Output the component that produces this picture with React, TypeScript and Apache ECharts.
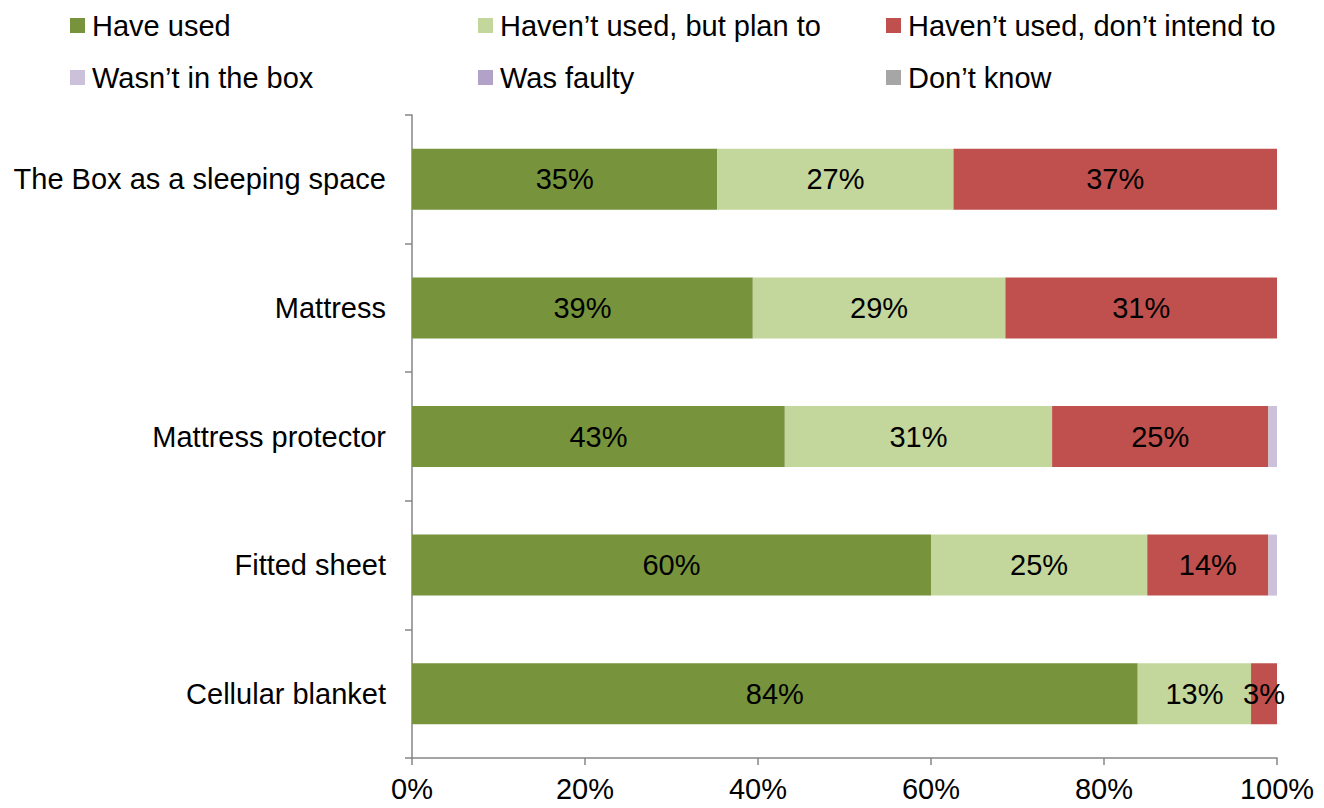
import React, { useEffect, useRef } from "react";
import * as echarts from "echarts";

const categories = [
  "The Box as a sleeping space",
  "Mattress",
  "Mattress protector",
  "Fitted sheet",
  "Cellular blanket",
];
const seriesNames = [
  "Have used",
  "Haven\u2019t used, but plan to",
  "Haven\u2019t used, don\u2019t intend to",
  "Wasn\u2019t in the box",
  "Was faulty",
  "Don\u2019t know",
];
const haveUsed = [35.3, 39.4, 43.1, 60.0, 83.9];
const planTo = [27.3, 29.2, 30.9, 25.0, 13.1];
const dontIntend = [37.4, 31.4, 25.0, 14.0, 3.0];
const notInBox = [0, 0, 1.0, 1.0, 0];
const faulty = [0, 0, 0, 0, 0];
const dontKnow = [0, 0, 0, 0, 0];
const colors = ["#77933C", "#C3D69B", "#C0504D", "#CCC1DA", "#B3A2C7", "#A6A6A6"];
const xTicks = [0, 20, 40, 60, 80, 100];

const FONT = "'Liberation Sans', Arial, sans-serif";
const FS = 29;

export default function App() {
  const ref = useRef<HTMLDivElement>(null);
  useEffect(() => {
    if (!ref.current) return;
    const chart = echarts.init(ref.current, undefined, { renderer: "svg" });
    const values = [haveUsed, planTo, dontIntend, notInBox, faulty, dontKnow];
    const legendPos = [
      { left: 70, top: 11 },
      { left: 478, top: 11 },
      { left: 886, top: 11 },
      { left: 70, top: 63 },
      { left: 478, top: 63 },
      { left: 886, top: 63 },
    ];
    chart.setOption({
      animation: false,
      color: colors,
      textStyle: { fontFamily: FONT },
      legend: seriesNames.map((n, i) => ({
        data: [n],
        left: legendPos[i].left,
        top: legendPos[i].top,
        itemWidth: 15,
        itemHeight: 15,
        icon: "rect",
        padding: 0,
        textStyle: { fontFamily: FONT, fontSize: FS, color: "#000", padding: [0, 0, 0, 2] },
        selectedMode: false,
      })),
      grid: { left: 412, right: 47, top: 115, bottom: 50, containLabel: false },
      xAxis: {
        type: "value",
        min: xTicks[0],
        max: xTicks[xTicks.length - 1],
        interval: 20,
        splitLine: { show: false },
        axisLine: { show: true, lineStyle: { color: "#868686", width: 1.5 } },
        axisTick: { show: true, length: 7, lineStyle: { color: "#868686", width: 1.5 } },
        axisLabel: {
          formatter: "{value}%",
          fontFamily: FONT,
          fontSize: FS,
          color: "#000",
          margin: 16,
        },
      },
      yAxis: {
        type: "category",
        data: categories,
        inverse: true,
        axisLine: { show: true, lineStyle: { color: "#868686", width: 1.5 } },
        axisTick: { show: true, length: 7, lineStyle: { color: "#868686", width: 1.5 } },
        axisLabel: { fontFamily: FONT, fontSize: FS, color: "#000", margin: 26 },
      },
      series: seriesNames.map((n, i) => ({
        name: n,
        type: "bar",
        stack: "total",
        barWidth: 61,
        data: values[i],
        itemStyle: { color: colors[i] },
        label: {
          show: true,
          position: "inside",
          fontFamily: FONT,
          fontSize: FS,
          color: "#000",
          formatter: (p: any) => (p.value >= 2 ? Math.round(p.value) + "%" : ""),
        },
      })),
    });
    return () => chart.dispose();
  }, []);
  return (
    <div
      ref={ref}
      style={{ position: "fixed", left: 0, top: 0, width: 1324, height: 808, background: "#fff" }}
    />
  );
}
